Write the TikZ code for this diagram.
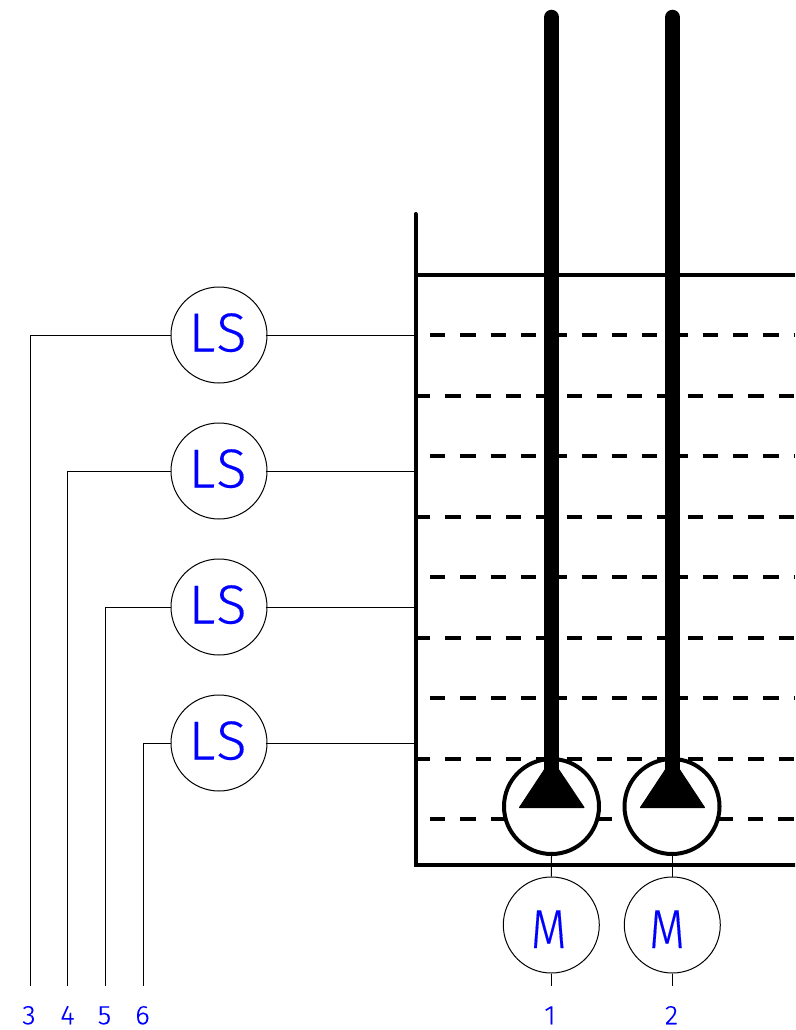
\documentclass[tikz,border=0pt]{standalone}
\usepackage{fontspec}
\newfontfamily\isofont[FakeStretch=0.84,FakeBold=0.3]{Fira Sans Light}
\newfontfamily\isowide[FakeStretch=1.02,FakeBold=0.3,LetterSpace=4]{Fira Sans Light}
\definecolor{tagblue}{RGB}{0,0,255}
\tikzset{
  x=1pt,y=-1pt,
  inst/.style={draw=black,line width=1pt,fill=white,circle,minimum size=96pt,inner sep=0pt},
  glyph/.style={inner sep=0pt,text=tagblue,font=\isofont\fontsize{55}{55}\selectfont,text height=38pt,text depth=0pt},
  wideglyph/.style={glyph,font=\isowide\fontsize{55}{55}\selectfont},
  pumpc/.style={draw=black,line width=4pt,fill=white,circle,minimum size=95pt,inner sep=0pt},
  wire/.style={draw=black,line width=1pt},
  heavy/.style={draw=black,line width=4pt},
  level/.style={draw=black,line width=4pt,dash pattern=on 15.3pt off 15pt},
  pipe/.style={draw=black,line width=15.5pt,line cap=round},
  tag/.style={text=tagblue,inner sep=0pt,font=\isowide\fontsize{27}{27}\selectfont,text height=18.5pt,text depth=0pt},
  impeller/.style={fill=black,draw=black,line width=1pt,line join=round}
}
\begin{document}
\begin{tikzpicture}
\useasboundingbox (0,0) rectangle (795,1030);
\clip (0,0) rectangle (795,1030);
% tank
\coordinate (walltop) at (415.5,214);
\coordinate (wallbot) at (415.5,864.5);
\coordinate (right) at (795,864.5);
\coordinate (lidl) at (415.5,274.5);
\coordinate (lidr) at (795,274.5);
% level lines
\foreach \y in {395.5,516.5,637.5,758.5}{\draw[level] (415,\y) -- (795,\y);}
\foreach \y in {335,456,577,698}{\draw[level] (430,\y) -- (795,\y);}
\draw[level] (430,819) -- (510,819);
\draw[level] (596.5,819) -- (795,819);
\draw[heavy,line cap=round] (walltop) -- (wallbot) -- (right);
\draw[heavy] (lidl) -- (lidr);
% pipes
\coordinate (p1top) at (551.5,17.5);
\coordinate (p2top) at (672.5,17.5);
\node[pumpc] (pump1) at (551.5,806.5) {};
\node[pumpc] (pump2) at (672,806.5) {};
\draw[pipe,line cap=butt] (551.5,40) -- (551.5,770);
\draw[pipe] (p1top) -- (551.5,40);
\draw[pipe,line cap=butt] (672.5,40) -- (672.5,770);
\draw[pipe] (p2top) -- (672.5,40);
\fill[impeller] (551.5,759) -- (584,807.5) -- (519.5,807.5) -- cycle;
\fill[impeller] (672.5,759) -- (704.5,807.5) -- (640.5,807.5) -- cycle;
% motors
\node[inst] (m1) at (551.3,925) {};
\node[inst] (m2) at (672.3,925) {};
\node[glyph] (ml1) at (548.7,929) {M};
\node[glyph] (ml2) at (667,929) {M};
\coordinate (e1) at (551.3,985.7);
\coordinate (e2) at (672.3,985.7);
\draw[wire] (pump1.south) -- (m1.north);
\draw[wire] (m1.south) -- (e1);
\draw[wire] ([xshift=.3pt]pump2.south) -- (m2.north);
\draw[wire] (m2.south) -- (e2);
\node[tag] (t1) at (550,1015) {1};
\node[tag] (t2) at (671.5,1015) {2};
% level switches
\foreach \n/\y/\x/\t/\tx in {1/335/30/3/29, 2/471/67.8/4/67.5, 3/607/105.5/5/104.5, 4/743/143.5/6/142.5}{
  \node[inst] (ls\n) at (219,\y) {};
  \node[wideglyph] (lt\n) at (217.5,\y-2.5) {LS};
  \coordinate (w\n) at (414,\y);
  \coordinate (c\n) at (\x,\y);
  \coordinate (b\n) at (\x,985.7);
  \draw[wire] ([xshift=-2pt]ls\n.east) -- (w\n);
  \draw[wire] (ls\n.west) -- (c\n) -- (b\n);
  \node[tag] (t\t) at (\tx,1015) {\t};
}
\end{tikzpicture}
\end{document}
